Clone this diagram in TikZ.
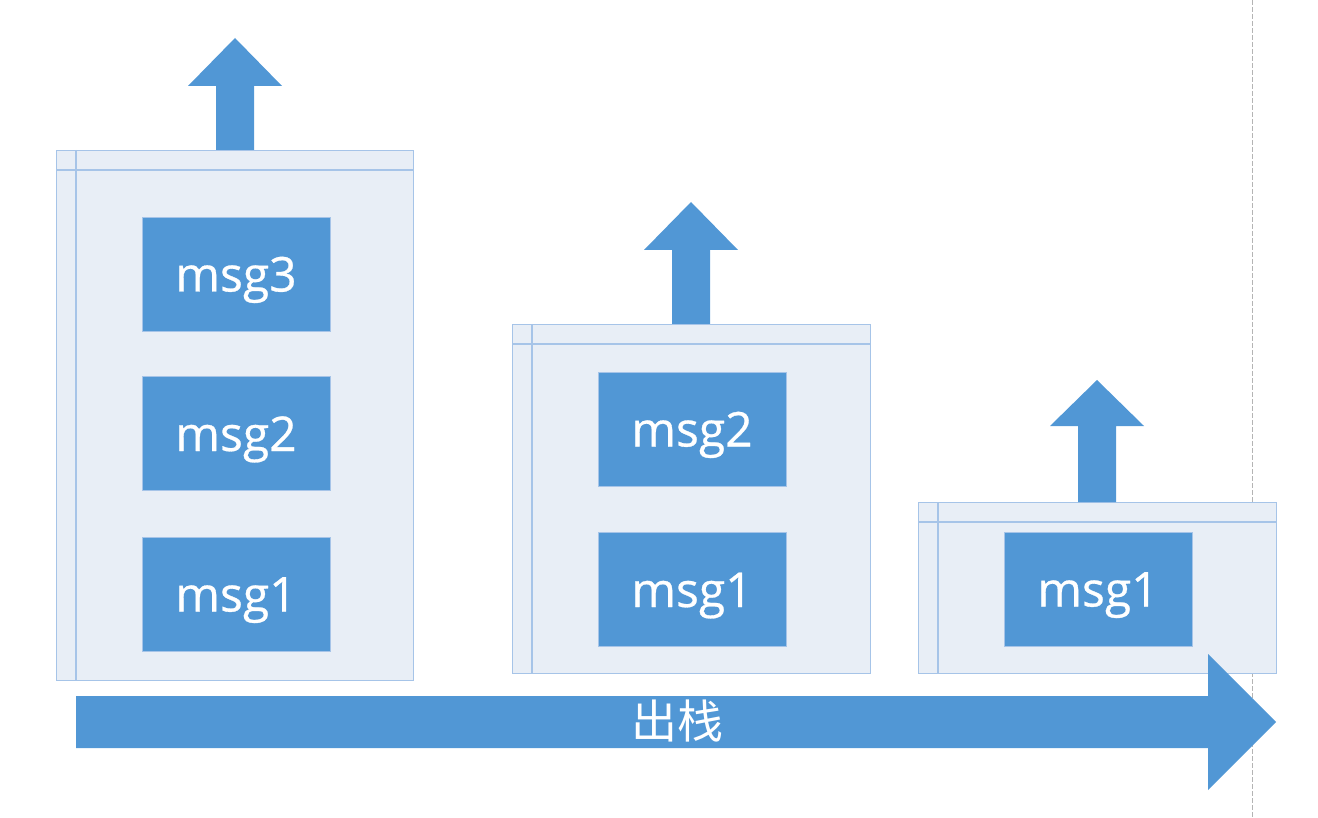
\documentclass[tikz,border=0pt]{standalone}
\usepackage{fontspec}
\usepackage{tikz}
\usepackage{xcolor}
\usetikzlibrary{positioning,calc}
\newfontfamily\cjk{Noto Sans CJK SC}
\newfontfamily\msgfont[FakeBold=0.6]{Open Sans}
\definecolor{msgblue}{RGB}{81,151,213}
\definecolor{stackfill}{RGB}{232,238,246}
\definecolor{stackline}{RGB}{166,196,232}
\definecolor{guidegray}{RGB}{180,180,180}

\tikzset{
  stackbox/.style={draw=stackline,line width=1.2pt,fill=stackfill,anchor=north west,inner sep=0pt},
  msgbox/.style={fill=msgblue,draw=stackline,line width=0.5pt,minimum width=188pt,minimum height=114pt,
    inner sep=0pt,text=white,text height=39pt,text depth=4pt,font=\msgfont\fontsize{48}{52}\selectfont},
  blockarrow/.style={fill=msgblue,draw=none}
}

\begin{document}
\begin{tikzpicture}[x=1pt,y=-1pt]
  \useasboundingbox (0,0) rectangle (1318,818);
  % guide line on the right
  \draw[guidegray,line width=1pt,dash pattern=on 5pt off 2pt] (1252,0)--(1252,818);

  % stack 1
  \node[stackbox,minimum width=357pt,minimum height=530pt] (s1) at (56,150) {};
  \draw[stackline,line width=1.2pt] ($(s1.north west)+(20,0)$)--($(s1.south west)+(20,0)$);
  \draw[stackline,line width=1.2pt] ($(s1.north west)+(0,20)$)--($(s1.north east)+(0,20)$);
  \node[msgbox] (s1m3) at (236,274) {msg3};
  \node[msgbox,below=45pt of s1m3] (s1m2) {msg2};
  \node[msgbox,below=46pt of s1m2] (s1m1) {msg1};
  \fill[blockarrow] (216,150)--(216,86)--(188,86)--(235,38)--(282,86)--(254,86)--(254,150)--cycle;

  % stack 2
  \node[stackbox,minimum width=358pt,minimum height=349pt] (s2) at (512,324) {};
  \draw[stackline,line width=1.2pt] ($(s2.north west)+(20,0)$)--($(s2.south west)+(20,0)$);
  \draw[stackline,line width=1.2pt] ($(s2.north west)+(0,20)$)--($(s2.north east)+(0,20)$);
  \node[msgbox] (s2m2) at (692,429) {msg2};
  \node[msgbox,below=46pt of s2m2] (s2m1) {msg1};
  \fill[blockarrow] (672,324)--(672,250)--(644,250)--(691,202)--(738,250)--(710,250)--(710,324)--cycle;

  % stack 3
  \node[stackbox,minimum width=358pt,minimum height=171pt] (s3) at (918,502) {};
  \draw[stackline,line width=1.2pt] ($(s3.north west)+(20,0)$)--($(s3.south west)+(20,0)$);
  \draw[stackline,line width=1.2pt] ($(s3.north west)+(0,20)$)--($(s3.north east)+(0,20)$);
  \node[msgbox] (s3m1) at (1098,589) {msg1};
  \fill[blockarrow] (1078,502)--(1078,426)--(1050,426)--(1097,380)--(1144,426)--(1116,426)--(1116,502)--cycle;

  % pop arrow
  \fill[blockarrow] (76,696)--(1208,696)--(1208,654)--(1276,722)--(1208,790)--(1208,748)--(76,748)--cycle;
  \node[text=white,font=\cjk\fontsize{46}{48}\selectfont] (pop) at (677,721) {出栈};
\end{tikzpicture}
\end{document}
